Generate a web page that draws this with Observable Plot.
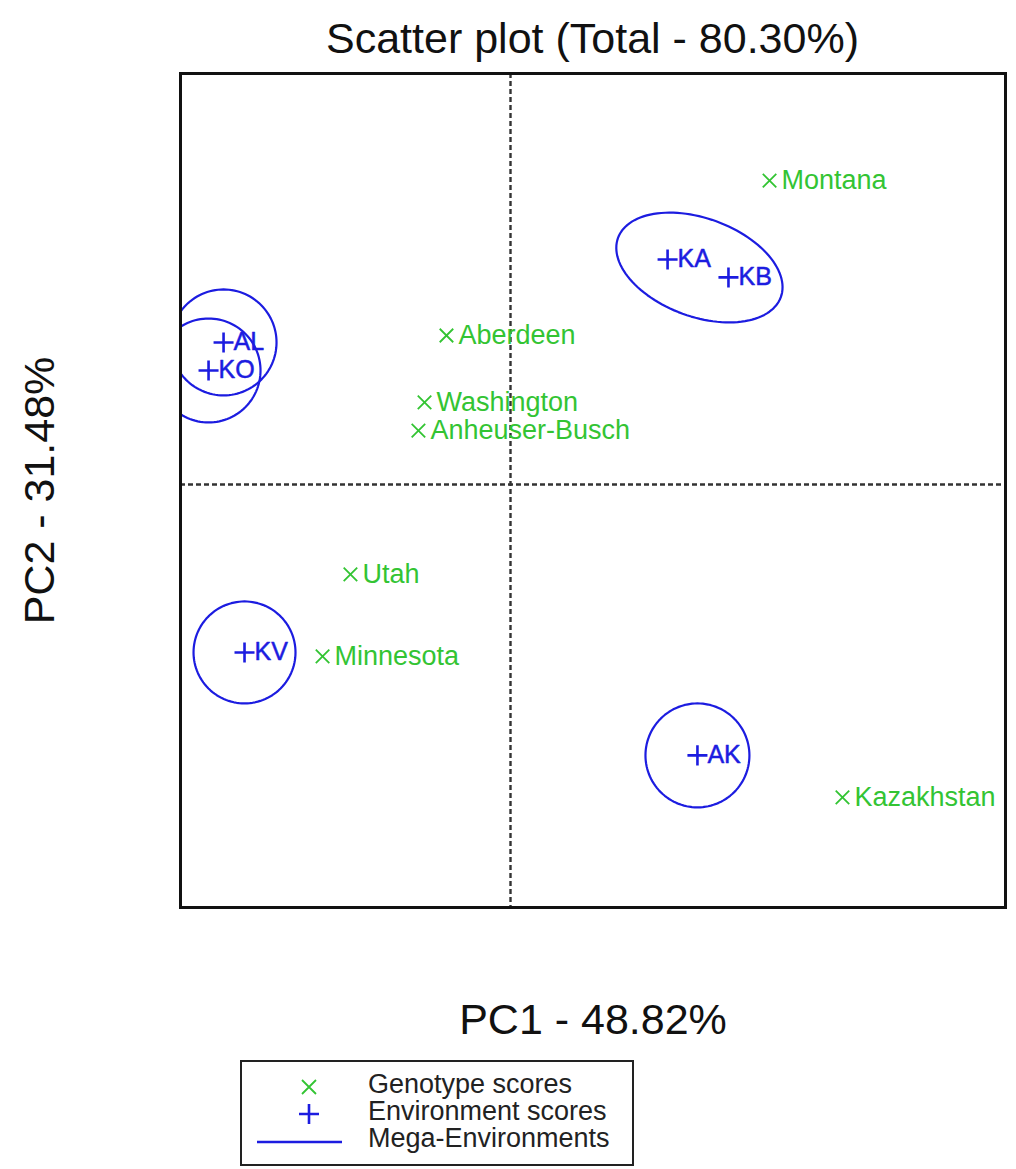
<!DOCTYPE html>
<html>
<head>
<meta charset="utf-8">
<script src="https://cdn.jsdelivr.net/npm/d3@7"></script>
<script src="https://cdn.jsdelivr.net/npm/@observablehq/plot@0.6"></script>
<style>
  html, body { margin: 0; padding: 0; background: #fff; }
  #chart { position: relative; width: 1016px; height: 1169px; font-family: "Liberation Sans", Arial, Helvetica, sans-serif; color: #111; }
  #title { position: absolute; left: 180px; width: 825px; top: 17px; font-size: 43px; line-height: 43px; text-align: center; white-space: nowrap; }
  #plot { position: absolute; left: 0; top: 0; }
  #legend { position: absolute; left: 240px; top: 1060px; }
</style>
</head>
<body>
<div id="chart">
  <div id="plot"></div>
  <div id="title">Scatter plot (Total - 80.30%)</div>
  <div id="legend"></div>
</div>
<script>
// ---- data ----
const genotypes = ["Montana", "Aberdeen", "Washington", "Anheuser-Busch", "Utah", "Minnesota", "Kazakhstan"];
const genoPC1 = [1.570, -0.388, -0.521, -0.558, -0.970, -1.139, 2.012];
const genoPC2 = [1.842, 0.903, 0.497, 0.327, -0.545, -1.042, -1.897];

const environments = ["KA", "KB", "AL", "KO", "KV", "AK"];
const envPC1 = [0.952, 1.321, -1.739, -1.830, -1.612, 1.133];
const envPC2 = [1.364, 1.255, 0.861, 0.691, -1.018, -1.642];

const megaEnvs = ["KA-KB", "AL", "KO", "KV", "AK"];
const megaCx = [1.145, -1.739, -1.830, -1.612, 1.133];
const megaCy = [1.315, 0.861, 0.691, -1.018, -1.642];
const megaRx = [0.525, 0.321, 0.315, 0.309, 0.315];
const megaRy = [0.298, 0.321, 0.315, 0.309, 0.315];
const megaAngleDeg = [-20, 0, 0, 0, 0];

const titleText = "Scatter plot (Total - 80.30%)";
const xLabel = "PC1 - 48.82%";
const yLabel = "PC2 - 31.48%";
const legendLabels = ["Genotype scores", "Environment scores", "Mega-Environments"];

const xDomain = [-2, 3];
const yDomain = [-2.564, 2.491];

// ---- styles ----
const green = "#33c433";
const blue = "#1c1ce0";

// ---- tables built from arrays ----
const genoData = genotypes.map((name, i) => ({name, x: genoPC1[i], y: genoPC2[i]}));
const envData = environments.map((name, i) => ({name, x: envPC1[i], y: envPC2[i]}));
const ellipsePts = [];
megaEnvs.forEach((me, i) => {
  const a = megaAngleDeg[i] * Math.PI / 180;
  const n = 120;
  for (let k = 0; k < n; k++) {
    const t = 2 * Math.PI * k / n;
    ellipsePts.push({
      me,
      x: megaCx[i] + megaRx[i] * Math.cos(t) * Math.cos(a) - megaRy[i] * Math.sin(t) * Math.sin(a),
      y: megaCy[i] + megaRx[i] * Math.cos(t) * Math.sin(a) + megaRy[i] * Math.sin(t) * Math.cos(a)
    });
  }
});

document.getElementById("title").textContent = titleText;

const plot = Plot.plot({
  width: 1016,
  height: 1050,
  marginTop: 73,
  marginBottom: 143,
  marginLeft: 180,
  marginRight: 11,
  style: {fontFamily: '"Liberation Sans", Arial, Helvetica, sans-serif', background: "transparent", color: "#111", overflow: "visible"},
  x: {domain: xDomain, axis: null},
  y: {domain: yDomain, axis: null},
  marks: [
    Plot.ruleX([0], {stroke: "#333", strokeWidth: 2.4, strokeDasharray: "5,3"}),
    Plot.ruleY([0], {stroke: "#333", strokeWidth: 2.4, strokeDasharray: "5,3"}),
    Plot.line(ellipsePts, {x: "x", y: "y", z: "me", stroke: blue, strokeWidth: 2.2, curve: "linear-closed", clip: true}),
    Plot.dot(genoData, {x: "x", y: "y", symbol: "times", r: 6.2, stroke: green, strokeWidth: 1.8}),
    Plot.text(genoData, {x: "x", y: "y", text: "name", textAnchor: "start", dx: 12, fill: green, fontSize: 27}),
    Plot.dot(envData, {x: "x", y: "y", symbol: "plus", r: 6.5, stroke: blue, strokeWidth: 2.6}),
    Plot.text(envData, {x: "x", y: "y", text: "name", textAnchor: "start", dx: 10, fill: blue, fontSize: 25, stroke: blue, strokeWidth: 0.5}),
    Plot.frame({stroke: "#111", strokeWidth: 3}),
    Plot.text([xLabel], {frameAnchor: "bottom", textAnchor: "middle", dy: 126, fontSize: 43, fill: "#111"}),
    Plot.text([yLabel], {frameAnchor: "left", textAnchor: "middle", rotate: -90, dx: -140, fontSize: 43, fill: "#111"})
  ]
});
document.getElementById("plot").appendChild(plot);

// ---- legend (below the plot) ----
const lw = 394, lh = 106;
const leg = d3.select("#legend").append("svg")
  .attr("width", lw).attr("height", lh)
  .style("font-family", '"Liberation Sans", Arial, Helvetica, sans-serif')
  .style("overflow", "visible");
leg.append("rect").attr("x", 1).attr("y", 1).attr("width", lw - 2).attr("height", lh - 2)
  .attr("fill", "#fff").attr("stroke", "#222").attr("stroke-width", 2);
const sx = 69;
leg.append("path").attr("d", `M${sx-7},${27-7}L${sx+7},${27+7}M${sx-7},${27+7}L${sx+7},${27-7}`)
  .attr("stroke", green).attr("stroke-width", 1.8).attr("fill", "none");
leg.append("path").attr("d", `M${sx-10},54H${sx+10}M${sx},44V64`)
  .attr("stroke", blue).attr("stroke-width", 2.6).attr("fill", "none");
leg.append("line").attr("x1", 17).attr("x2", 102).attr("y1", 82).attr("y2", 82)
  .attr("stroke", blue).attr("stroke-width", 2.5);
const baselines = [33, 60, 87];
legendLabels.forEach((t, i) => {
  leg.append("text").attr("x", 128).attr("y", baselines[i]).attr("font-size", 27).attr("fill", "#222").text(t);
});
</script>
</body>
</html>
